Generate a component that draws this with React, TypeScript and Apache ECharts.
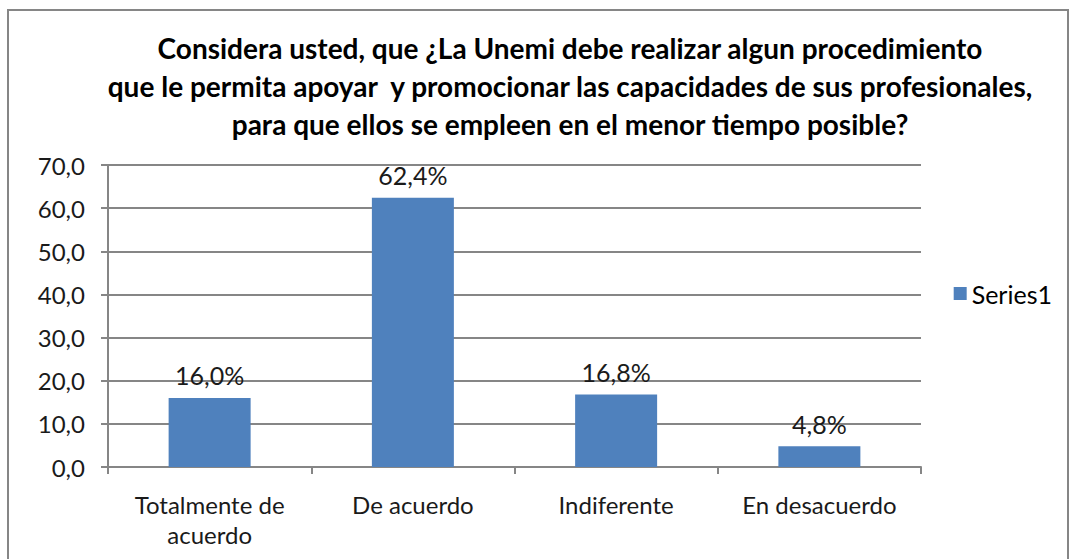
import React, { useEffect, useRef } from "react";
import * as echarts from "echarts";

const categories = ["Totalmente de\nacuerdo", "De acuerdo", "Indiferente", "En desacuerdo"];
const values = [16.0, 62.4, 16.8, 4.8];
const seriesName = "Series1";
const titleText =
  "Considera usted, que ¿La Unemi debe realizar algun procedimiento\nque le permita apoyar  y promocionar las capacidades de sus profesionales,\npara que ellos se empleen en el menor tiempo posible?";

const FONT = "Lato, 'Open Sans', sans-serif";

export default function App() {
  const ref = useRef<HTMLDivElement>(null);
  useEffect(() => {
    if (!ref.current) return;
    const chart = echarts.init(ref.current, null, { renderer: "svg" });
    chart.setOption({
      animation: false,
      backgroundColor: "#fff",
      title: {
        text: titleText,
        left: 565,
        textAlign: "center",
        top: 24,
        textStyle: {
          fontFamily: FONT,
          fontSize: 28,
          fontWeight: "bold",
          lineHeight: 38,
          color: "#000",
        },
      },
      legend: {
        right: 16,
        top: 276,
        orient: "vertical",
        icon: "rect",
        itemWidth: 13,
        itemHeight: 13,
        itemGap: 6,
        textStyle: { fontFamily: FONT, fontSize: 25, color: "#000" },
        data: [seriesName],
      },
      graphic: [
        {
          type: "rect",
          shape: { x: 8, y: 10, width: 1060, height: 560 },
          style: { fill: "none", stroke: "#868686", lineWidth: 2 },
          silent: true,
        },
      ],
      grid: { left: 108, right: 152, top: 165, bottom: 92 },
      xAxis: {
        type: "category",
        data: categories,
        axisLine: { show: true, lineStyle: { color: "#868686", width: 2 } },
        axisTick: { show: true, alignWithLabel: false, length: 7, lineStyle: { color: "#868686", width: 2 } },
        axisLabel: {
          fontFamily: FONT,
          fontSize: 24,
          lineHeight: 30,
          color: "#1a1a1a",
          margin: 22,
          interval: 0,
        },
      },
      yAxis: {
        type: "value",
        min: 0,
        max: 70,
        interval: 10,
        axisLine: { show: true, lineStyle: { color: "#868686", width: 2 } },
        axisTick: { show: true, length: 7, lineStyle: { color: "#868686", width: 2 } },
        splitLine: { show: true, lineStyle: { color: "#868686", width: 2 } },
        axisLabel: {
          fontFamily: FONT,
          fontSize: 24,
          color: "#1a1a1a",
          margin: 23,
          formatter: (v: number) => v.toFixed(1).replace(".", ","),
        },
      },
      series: [
        {
          name: seriesName,
          type: "bar",
          data: values,
          barWidth: 82,
          itemStyle: { color: "#4F81BD" },
          label: {
            show: true,
            position: "top",
            distance: 10,
            fontFamily: FONT,
            fontSize: 25,
            color: "#1a1a1a",
            formatter: (p: any) => p.value.toFixed(1).replace(".", ",") + "%",
          },
        },
      ],
    });
    return () => chart.dispose();
  }, []);
  return (
    <div
      ref={ref}
      style={{ position: "absolute", left: 0, top: 0, width: 1073, height: 559 }}
    />
  );
}
